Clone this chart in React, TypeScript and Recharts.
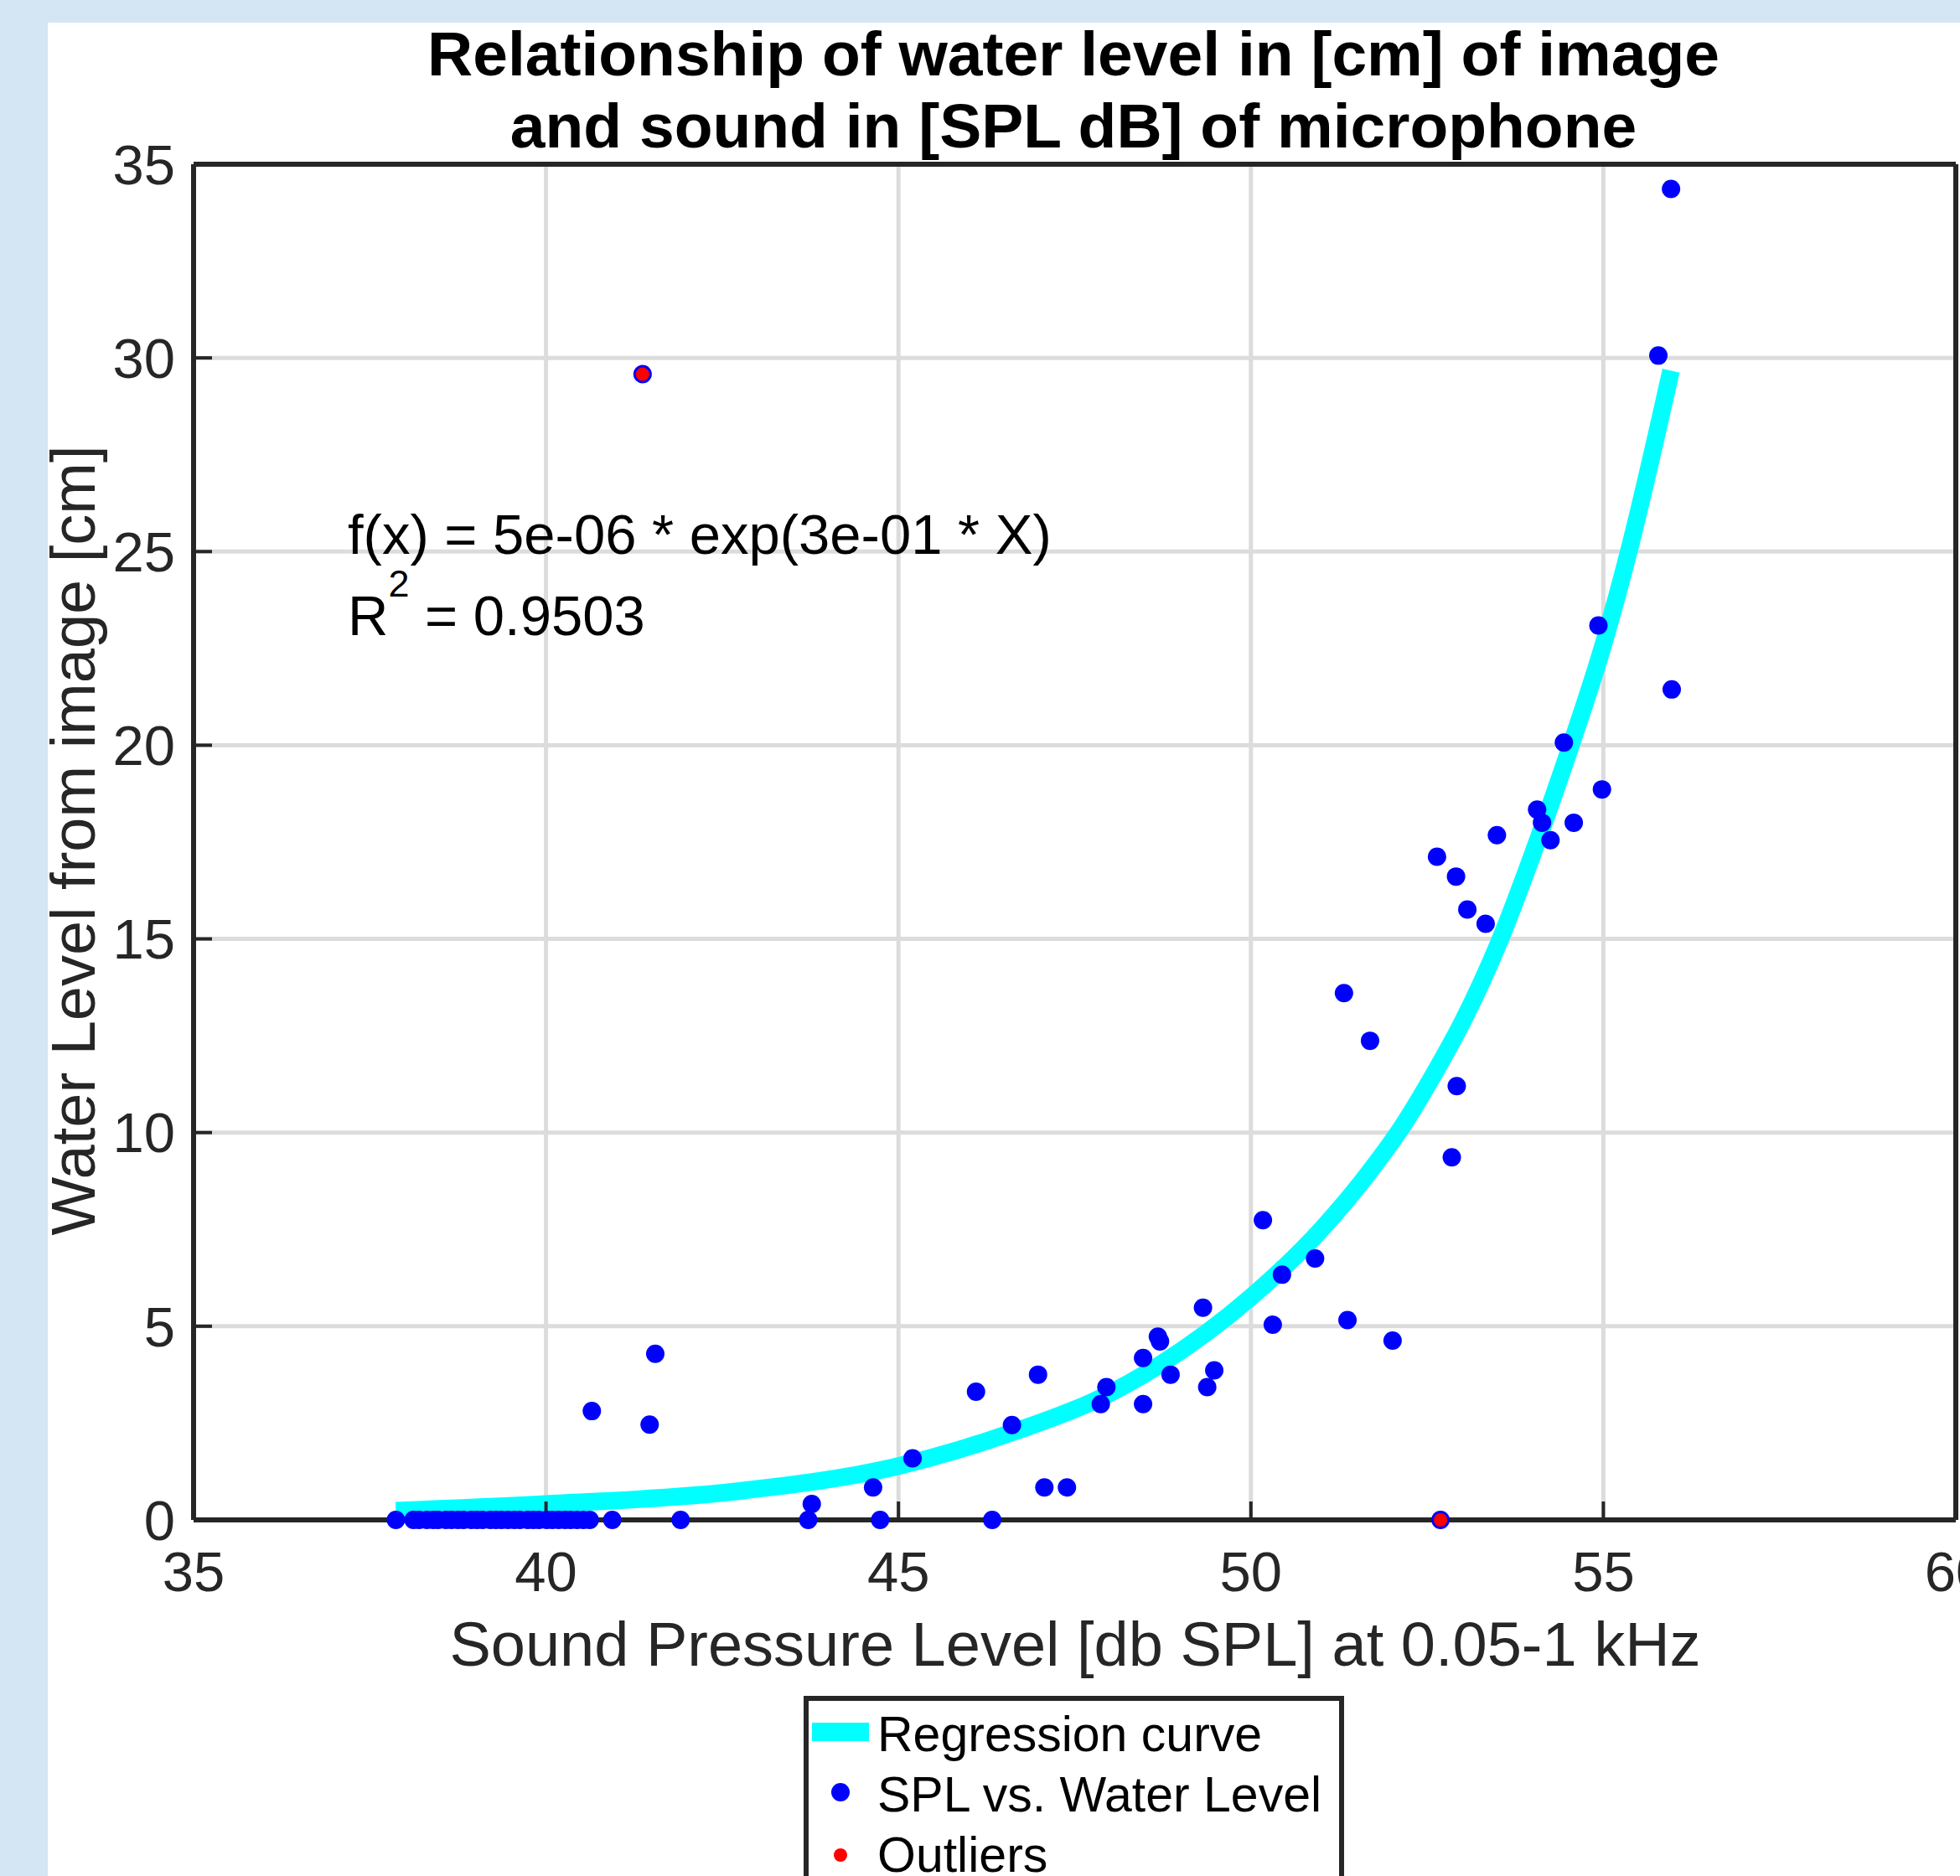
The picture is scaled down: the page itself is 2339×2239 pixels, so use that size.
import React from 'react';
import { ComposedChart, Line, Scatter, XAxis, YAxis, CartesianGrid, Legend } from 'recharts';

const FONT = '"Liberation Sans", Arial, Helvetica, sans-serif';
const INK = '#262626';

const xTicks = [35, 40, 45, 50, 55, 60];
const yTicks = [0, 5, 10, 15, 20, 25, 30, 35];

// regression curve
const curveX = [37.87, 40.0, 42.72, 45.0, 46.68, 47.87, 48.66, 50.0, 51.0, 51.71, 52.09, 52.64, 53.0, 53.54, 54.0, 54.54, 55.0, 55.36, 55.96];
const curveY = [0.24, 0.41, 0.74, 1.39, 2.3, 3.15, 3.95, 5.75, 7.5, 9.05, 10.0, 11.65, 12.85, 15.0, 17.2, 20.0, 22.6, 25.0, 29.67];

// measured points: SPL [dB] vs water level [cm]
const splX = [
  37.87, 38.12, 38.2, 38.31, 38.4, 38.47, 38.58, 38.66, 38.75, 38.83, 38.94, 39.02, 39.1, 39.21, 39.29,
  39.37, 39.46, 39.55, 39.63, 39.74, 39.82, 39.9, 40.01, 40.09, 40.18, 40.27, 40.35, 40.44, 40.53, 40.62,
  40.94, 41.91, 43.72, 44.74, 46.33,
  40.65, 41.37, 41.47, 41.55, 43.77, 44.64, 45.2, 46.1, 46.61, 46.98, 47.07, 47.39, 47.87, 47.95, 48.47,
  48.47, 48.68, 48.71, 48.86, 49.32, 49.38, 49.48, 50.17, 50.31, 50.44, 50.91, 51.32, 51.37, 51.69, 52.01,
  52.64, 52.69, 52.85, 52.92, 52.91, 53.07, 53.33, 53.49, 54.06, 54.13, 54.25, 54.44, 54.58, 54.93, 54.98,
  55.78, 55.97, 55.96,
];
const levelY = [
  0, 0, 0, 0, 0, 0, 0, 0, 0, 0, 0, 0, 0, 0, 0,
  0, 0, 0, 0, 0, 0, 0, 0, 0, 0, 0, 0, 0, 0, 0,
  0, 0, 0, 0, 0,
  2.81, 29.58, 2.46, 4.29, 0.41, 0.84, 1.59, 3.31, 2.45, 3.75, 0.84, 0.84, 2.99, 3.43, 4.18,
  2.99, 4.73, 4.61, 3.75, 5.48, 3.43, 3.86, 7.74, 5.04, 6.33, 6.75, 13.6, 5.16, 12.37, 4.63,
  17.12, 0, 9.36, 11.2, 16.61, 15.76, 15.39, 17.68, 18.34, 18.0, 17.55, 20.07, 18.0, 23.09, 18.86,
  30.06, 21.44, 34.36,
];

const outlierX = [41.37, 52.69];
const outlierY = [29.58, 0];

const legendOrder = ['Regression curve', 'SPL vs. Water Level', 'Outliers'];

const curveData = curveX.map((x, i) => ({ x, y: curveY[i] }));
const pointData = splX.map((x, i) => ({ x, y: levelY[i] }));
const outlierData = outlierX.map((x, i) => ({ x, y: outlierY[i] }));

const BlueDot = (p: any) => <circle cx={p.cx} cy={p.cy} r={11} fill="#0000ff" />;
const RedMark = (p: any) => <circle cx={p.cx} cy={p.cy} r={8} fill="#ff0000" />;

const renderLegend = (props: any) => {
  const payload = [...(props.payload || [])].sort(
    (a: any, b: any) => legendOrder.indexOf(a.value) - legendOrder.indexOf(b.value)
  );
  return (
    <div
      style={{
        width: 645,
        height: 300,
        boxSizing: 'border-box',
        background: '#fff',
        border: `6px solid ${INK}`,
        paddingTop: 4,
        fontFamily: FONT,
        fontSize: 59,
        color: '#000',
      }}
    >
      {payload.map((entry: any, i: number) => (
        <div key={i} style={{ display: 'flex', alignItems: 'flex-start', height: 72, lineHeight: '72px' }}>
          <svg width={82} height={72} style={{ flex: 'none' }}>
            {entry.type === 'line' && <rect x={4} y={22} width={68} height={22} fill="#00ffff" />}
            {entry.type === 'circle' && <circle cx={38} cy={33} r={11} fill="#0000ff" />}
            {entry.type === 'star' && <circle cx={38} cy={36} r={8} fill="#ff0000" />}
          </svg>
          <span style={{ whiteSpace: 'nowrap' }}>{entry.value}</span>
        </div>
      ))}
    </div>
  );
};

export default function App() {
  const tickStyle = { fill: INK, fontSize: 67, fontFamily: FONT };
  return (
    <div style={{ position: 'absolute', left: 0, top: 0, width: 2339, height: 2239, overflow: 'hidden', background: '#d4e6f4' }}>
      <div style={{ position: 'absolute', left: 57, top: 27, right: 0, bottom: 0, background: '#fff' }} />
      <div style={{ position: 'absolute', left: 0, top: 0 }}>
        <ComposedChart width={2339} height={2239} margin={{ top: 195, right: 4, bottom: 325, left: 81 }}>
          <CartesianGrid stroke="#dcdcdc" strokeWidth={5} />
          <XAxis
            type="number"
            dataKey="x"
            domain={[35, 60]}
            ticks={xTicks}
            interval={0}
            height={100}
            axisLine={{ stroke: INK, strokeWidth: 6 }}
            tickLine={{ stroke: INK, strokeWidth: 4 }}
            tickSize={-22}
            tickMargin={59}
            tick={tickStyle}
          />
          <XAxis
            xAxisId="top"
            orientation="top"
            type="number"
            domain={[35, 60]}
            ticks={xTicks}
            interval={0}
            height={1}
            axisLine={{ stroke: INK, strokeWidth: 6 }}
            tickLine={{ stroke: INK, strokeWidth: 4 }}
            tickSize={-22}
            tick={false}
          />
          <YAxis
            type="number"
            dataKey="y"
            domain={[0, 35]}
            ticks={yTicks}
            interval={0}
            width={150}
            axisLine={{ stroke: INK, strokeWidth: 6 }}
            tickLine={{ stroke: INK, strokeWidth: 4 }}
            tickSize={-22}
            tickMargin={44}
            tick={tickStyle}
          />
          <YAxis
            yAxisId="right"
            orientation="right"
            type="number"
            domain={[0, 35]}
            ticks={yTicks}
            interval={0}
            width={1}
            axisLine={{ stroke: INK, strokeWidth: 6 }}
            tickLine={{ stroke: INK, strokeWidth: 4 }}
            tickSize={-22}
            tick={false}
          />
          <Line
            data={curveData}
            dataKey="y"
            name="Regression curve"
            type="monotone"
            stroke="#00ffff"
            strokeWidth={21}
            dot={false}
            activeDot={false}
            legendType="line"
            isAnimationActive={false}
          />
          <Scatter
            data={pointData}
            dataKey="y"
            name="SPL vs. Water Level"
            fill="#0000ff"
            shape={BlueDot}
            legendType="circle"
            isAnimationActive={false}
          />
          <Scatter
            data={outlierData}
            dataKey="y"
            name="Outliers"
            fill="#ff0000"
            shape={RedMark}
            legendType="star"
            isAnimationActive={false}
          />
          <Legend
            layout="vertical"
            align="center"
            verticalAlign="middle"
            content={renderLegend}
            wrapperStyle={{ left: 959, top: 2024, width: 645, height: 300 }}
          />
        </ComposedChart>
      </div>
      <svg
        width={2339}
        height={2239}
        style={{ position: 'absolute', left: 0, top: 0, pointerEvents: 'none' }}
        fontFamily={FONT}
      >
        <text x={1281} y={90} textAnchor="middle" fontSize={75} fontWeight="bold" fill="#000">
          Relationship of water level in [cm] of image
        </text>
        <text x={1281} y={176} textAnchor="middle" fontSize={75} fontWeight="bold" fill="#000">
          and sound in [SPL dB] of microphone
        </text>
        <text x={1283} y={1988} textAnchor="middle" fontSize={74} fill={INK}>
          Sound Pressure Level [db SPL] at 0.05-1 kHz
        </text>
        <text x={113} y={1003} textAnchor="middle" fontSize={74} fill={INK} transform="rotate(-90 113 1003)">
          Water Level from image [cm]
        </text>
        <text x={415} y={661} fontSize={67} fill="#000">
          f(x) = 5e-06 * exp(3e-01 * X)
        </text>
        <text x={415} y={758} fontSize={67} fill="#000">
          R<tspan fontSize={45} dy={-46}>2</tspan>
          <tspan dy={46}> = 0.9503</tspan>
        </text>
      </svg>
    </div>
  );
}
